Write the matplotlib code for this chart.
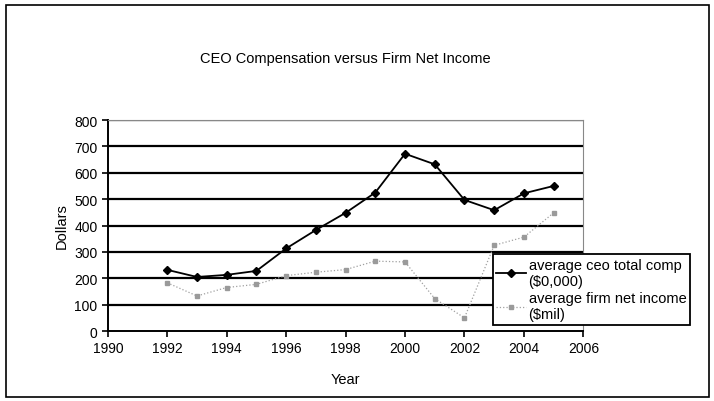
import matplotlib.pyplot as plt
from matplotlib.patches import Rectangle

plt.rcParams['font.family'] = ['Liberation Sans', 'DejaVu Sans']

# Data
years = [1992, 1993, 1994, 1995, 1996, 1997, 1998, 1999, 2000, 2001, 2002, 2003, 2004, 2005]
ceo_comp = [232, 205, 213, 228, 313, 383, 448, 525, 672, 632, 497, 458, 522, 550]
firm_income = [183, 133, 165, 177, 210, 223, 233, 265, 262, 123, 50, 325, 356, 448]
x_ticks = list(range(1990, 2007, 2))
y_ticks = list(range(0, 801, 100))

fig = plt.figure(figsize=(7.14, 4.02), dpi=100)
fig.patches.append(Rectangle((0.008, 0.01), 0.985, 0.975, transform=fig.transFigure,
                             fill=False, edgecolor='black', linewidth=1.2))

ax = fig.add_axes([0.151, 0.174, 0.666, 0.525])
for y in y_ticks[1:]:
    ax.axhline(y, color='black', linewidth=1.6, zorder=1)

ax.plot(years, ceo_comp, color='black', linewidth=1.3, marker='D', markersize=4,
        label='average ceo total comp\n($0,000)', zorder=3)
ax.plot(years, firm_income, color='#a0a0a0', linewidth=0.9, linestyle=':', marker='s',
        markersize=3.5, markerfacecolor='#9a9a9a', markeredgecolor='#9a9a9a',
        label='average firm net income\n($mil)', zorder=3)

ax.set_xlim(1990, 2006)
ax.set_ylim(0, 800)
ax.set_xticks(x_ticks)
ax.set_yticks(y_ticks)
ax.tick_params(axis='both', labelsize=10, direction='out', length=4, width=1.2)
ax.spines['top'].set_color('#888888')
ax.spines['right'].set_color('#888888')
ax.spines['left'].set_linewidth(1.4)
ax.spines['bottom'].set_linewidth(1.4)

ax.set_title('CEO Compensation versus Firm Net Income', fontsize=10.5, pad=42)
ax.set_xlabel('Year', fontsize=10.5, labelpad=12)
ax.set_ylabel('Dollars', fontsize=10.5, labelpad=4)

leg = fig.legend(loc='upper left', bbox_to_anchor=(0.68, 0.383), fontsize=10.5,
                 frameon=True, fancybox=False, edgecolor='black', framealpha=1,
                 handlelength=2.0, handletextpad=0.2, borderpad=0.25, labelspacing=0.2)
leg.get_frame().set_linewidth(1.3)

fig.savefig('out.png', dpi=100)
